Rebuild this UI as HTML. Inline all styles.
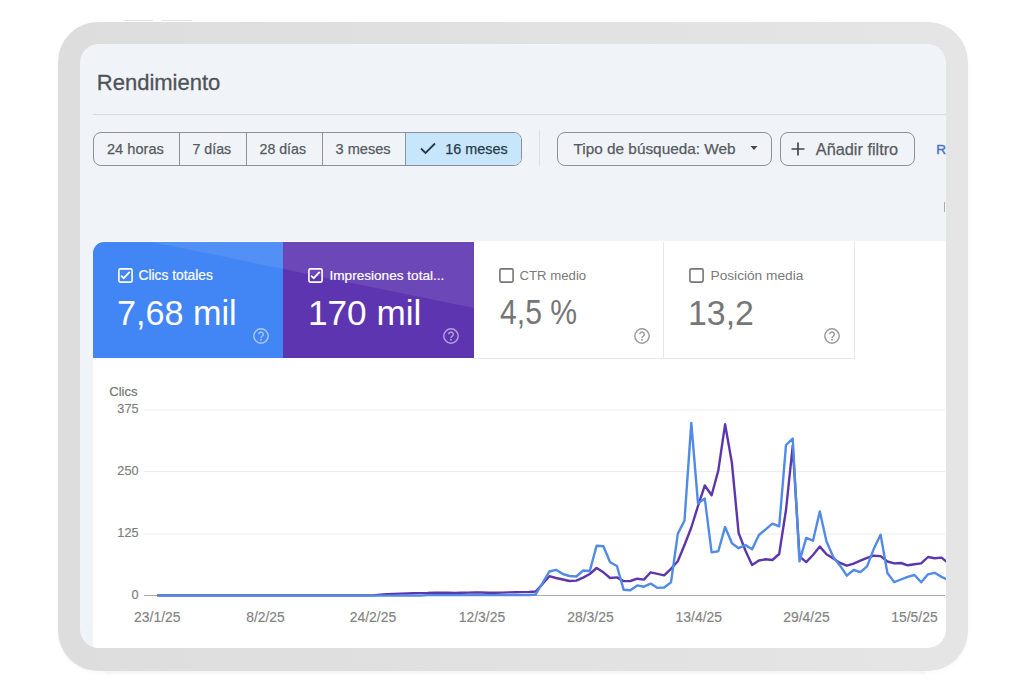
<!DOCTYPE html>
<html><head><meta charset="utf-8"><style>
*{margin:0;padding:0;box-sizing:border-box}
html,body{width:1024px;height:700px;overflow:hidden;background:#fff;font-family:"Liberation Sans", sans-serif}
.abs{position:absolute}
.t{position:absolute;white-space:nowrap;line-height:1}
.ic{position:absolute}
#frame{position:absolute;left:58px;top:22.4px;width:909.5px;height:648.8px;background:linear-gradient(to right,#dddddd,#e5e5e5);border-radius:40px;box-shadow:0 2px 4px rgba(0,0,0,0.03)}
#screen{position:absolute;left:80px;top:43.5px;width:865.8px;height:604.4px;background:#f0f4f9;border-radius:19px;overflow:hidden}
.xl{position:absolute;top:610.6px;width:80px;text-align:center;font-size:13.9px;line-height:1;color:#828282;white-space:nowrap;-webkit-text-stroke:0.15px #828282}
.yl{position:absolute;left:100px;width:38.5px;text-align:right;font-size:12.7px;line-height:1;color:#7c7c7c;-webkit-text-stroke:0.15px #7c7c7c}
</style></head><body>
<div class="abs" style="left:123px;top:19.5px;width:30px;height:1.2px;background:#e2e2e2"></div>
<div class="abs" style="left:162px;top:19.5px;width:30px;height:1.2px;background:#e2e2e2"></div>
<div id="frame"></div>
<div class="abs" style="left:105px;top:671px;width:820px;height:3px;background:#f5f5f5"></div>
<div id="screen">
 <div style="position:absolute;left:-80px;top:-43.5px;width:1024px;height:700px">
  <div class="t" style="left:96.8px;top:71.7px;font-size:22px;color:#4f5357;-webkit-text-stroke:0.3px #4f5357">Rendimiento</div>
  <div class="abs" style="left:93px;top:114px;width:860px;height:1px;background:#d6d9de"></div>
  <!-- segmented buttons -->
  <div class="abs" style="left:93px;top:132.3px;width:429px;height:33.5px;border:1px solid #8d9094;border-radius:8px;overflow:hidden">
    <div class="abs" style="left:311px;top:0;width:118px;height:34px;background:#c8e6fb"></div>
    <div class="abs" style="left:84.5px;top:0;width:1px;height:34px;background:#8d9094"></div>
    <div class="abs" style="left:152px;top:0;width:1px;height:34px;background:#8d9094"></div>
    <div class="abs" style="left:227.5px;top:0;width:1px;height:34px;background:#8d9094"></div>
    <div class="abs" style="left:310.8px;top:0;width:1px;height:34px;background:#8d9094"></div>
  </div>
  <div class="t" style="left:107.0px;top:142.0px;font-size:14.6px;color:#575b5f;-webkit-text-stroke:0.25px currentColor">24 horas</div>
  <div class="t" style="left:192.5px;top:142.4px;font-size:14.2px;color:#575b5f;-webkit-text-stroke:0.25px currentColor">7 días</div>
  <div class="t" style="left:259.5px;top:142.4px;font-size:14.2px;color:#575b5f;-webkit-text-stroke:0.25px currentColor">28 días</div>
  <div class="t" style="left:335.5px;top:142.0px;font-size:14.6px;color:#575b5f;-webkit-text-stroke:0.25px currentColor">3 meses</div>
  <div class="t" style="left:445.3px;top:142.2px;font-size:14.4px;color:#263a4a;-webkit-text-stroke:0.25px currentColor">16 meses</div>
  <svg class="ic" style="left:419px;top:141px" width="18" height="14" viewBox="0 0 18 14"><path d="M2 7.5l4.5 4.5L16 2.5" fill="none" stroke="#263a4a" stroke-width="1.8"/></svg>
  <div class="abs" style="left:539px;top:130px;width:1px;height:36px;background:#dcdfe3"></div>
  <div class="abs" style="left:556.5px;top:132.3px;width:215px;height:33.5px;border:1px solid #8d9094;border-radius:8px"></div>
  <div class="t" style="left:573.5px;top:141.4px;font-size:15.35px;color:#575b5f;-webkit-text-stroke:0.25px currentColor">Tipo de búsqueda: Web</div>
  <svg class="ic" style="left:749px;top:145px" width="10" height="6" viewBox="0 0 10 6"><path d="M1.5 1h7L5 5z" fill="#444746"/></svg>
  <div class="abs" style="left:780.2px;top:132.3px;width:135px;height:33.5px;border:1px solid #8d9094;border-radius:8px"></div>
  <svg class="ic" style="left:790px;top:141px" width="16" height="16" viewBox="0 0 16 16"><path d="M8 1.5v13M1.5 8h13" stroke="#444746" stroke-width="1.7"/></svg>
  <div class="t" style="left:815.8px;top:140.6px;font-size:16.3px;color:#575b5f;-webkit-text-stroke:0.25px currentColor">Añadir filtro</div>
  <div class="t" style="left:936.2px;top:143.3px;font-size:13.6px;color:#4a72c0;-webkit-text-stroke:0.4px #4a72c0">R</div>
  <div class="abs" style="left:943.5px;top:202px;width:1.6px;height:10px;background:#ababab"></div>
  <!-- white content -->
  <div class="abs" style="left:92.5px;top:240.5px;width:861px;height:420px;background:#fff;border-top-left-radius:12px"></div>
  <!-- cards -->
  <div class="abs" style="left:93px;top:241.5px;width:190px;height:116.5px;background:#4285f4;border-top-left-radius:11px;overflow:hidden"></div>
  <div class="abs" style="left:283px;top:241.5px;width:190.5px;height:116.5px;background:#5e35b1"></div>
  <svg class="abs" style="left:93px;top:241.5px" width="381" height="117" viewBox="93 241.5 381 117">
    <polygon points="152,241.5 474,241.5 474,307.5 " fill="#ffffff" fill-opacity="0.09"/>
  </svg>
  <div class="abs" style="left:473.5px;top:241.5px;width:190px;height:117px;border-right:1px solid #e8e8e8;border-bottom:1px solid #e8e8e8"></div>
  <div class="abs" style="left:663.3px;top:241.5px;width:192px;height:117px;border-right:1px solid #e8e8e8;border-bottom:1px solid #e8e8e8"></div>
  <svg class="ic" style="left:118px;top:267.9px" width="15" height="15" viewBox="0 0 15 15"><rect x="0.9" y="0.9" width="13.2" height="13.2" rx="1.5" fill="none" stroke="#ffffff" stroke-width="1.6"/><path d="M3.1 7.6L5.7 10.1 11.7 3.8" fill="none" stroke="#ffffff" stroke-width="1.8"/></svg>
  <svg class="ic" style="left:308px;top:267.9px" width="15" height="15" viewBox="0 0 15 15"><rect x="0.9" y="0.9" width="13.2" height="13.2" rx="1.5" fill="none" stroke="#ffffff" stroke-width="1.6"/><path d="M3.1 7.6L5.7 10.1 11.7 3.8" fill="none" stroke="#ffffff" stroke-width="1.8"/></svg>
  <svg class="ic" style="left:498.8px;top:268.2px" width="15" height="15" viewBox="0 0 15 15"><rect x="0.9" y="0.9" width="13.2" height="13.2" rx="1.5" fill="none" stroke="#757575" stroke-width="1.6"/></svg>
  <svg class="ic" style="left:688.9px;top:268.2px" width="15" height="15" viewBox="0 0 15 15"><rect x="0.9" y="0.9" width="13.2" height="13.2" rx="1.5" fill="none" stroke="#757575" stroke-width="1.6"/></svg>
  <div class="t" style="left:138.5px;top:268.5px;font-size:13.8px;color:#ffffff;-webkit-text-stroke:0.2px #fff">Clics totales</div>
  <div class="t" style="left:329.5px;top:268.7px;font-size:13.6px;color:#ffffff;-webkit-text-stroke:0.2px #fff">Impresiones total...</div>
  <div class="t" style="left:519.5px;top:269.0px;font-size:13.2px;color:#7a7a7a;">CTR medio</div>
  <div class="t" style="left:710.5px;top:268.6px;font-size:13.7px;color:#7a7a7a;">Posición media</div>
  <div class="t" style="left:117.1px;top:296.1px;font-size:35.8px;color:#ffffff;transform:scaleX(0.9550);transform-origin:0 0;">7,68 mil</div>
  <div class="t" style="left:307.5px;top:296.1px;font-size:35.8px;color:#ffffff;transform:scaleX(0.9822);transform-origin:0 0;">170 mil</div>
  <div class="t" style="left:499.7px;top:295.3px;font-size:35.5px;color:#767676;transform:scaleX(0.8496);transform-origin:0 0;">4,5 %</div>
  <div class="t" style="left:688.0px;top:295.9px;font-size:35.5px;color:#767676;transform:scaleX(0.9534);transform-origin:0 0;">13,2</div>
  <svg class="ic" style="left:251.8px;top:327.2px" width="18" height="18" viewBox="0 0 18 18"><circle cx="9" cy="9" r="7.2" fill="none" stroke="#a9c8fa" stroke-width="1.45"/><path d="M6.75 7.3a2.25 2.25 0 1 1 3.4 1.95c-.75.45-1.15.85-1.15 1.75" fill="none" stroke="#a9c8fa" stroke-width="1.45"/><circle cx="9" cy="12.75" r=".9" fill="#a9c8fa"/></svg>
  <svg class="ic" style="left:442.4px;top:327px" width="18" height="18" viewBox="0 0 18 18"><circle cx="9" cy="9" r="7.2" fill="none" stroke="#b3a0dc" stroke-width="1.45"/><path d="M6.75 7.3a2.25 2.25 0 1 1 3.4 1.95c-.75.45-1.15.85-1.15 1.75" fill="none" stroke="#b3a0dc" stroke-width="1.45"/><circle cx="9" cy="12.75" r=".9" fill="#b3a0dc"/></svg>
  <svg class="ic" style="left:632.8px;top:326.9px" width="18" height="18" viewBox="0 0 18 18"><circle cx="9" cy="9" r="7.2" fill="none" stroke="#9a9a9a" stroke-width="1.45"/><path d="M6.75 7.3a2.25 2.25 0 1 1 3.4 1.95c-.75.45-1.15.85-1.15 1.75" fill="none" stroke="#9a9a9a" stroke-width="1.45"/><circle cx="9" cy="12.75" r=".9" fill="#9a9a9a"/></svg>
  <svg class="ic" style="left:823.3px;top:326.9px" width="18" height="18" viewBox="0 0 18 18"><circle cx="9" cy="9" r="7.2" fill="none" stroke="#9a9a9a" stroke-width="1.45"/><path d="M6.75 7.3a2.25 2.25 0 1 1 3.4 1.95c-.75.45-1.15.85-1.15 1.75" fill="none" stroke="#9a9a9a" stroke-width="1.45"/><circle cx="9" cy="12.75" r=".9" fill="#9a9a9a"/></svg>
  <!-- chart -->
  <div class="t" style="left:109.2px;top:385.2px;font-size:13.1px;color:#757575;-webkit-text-stroke:0.2px #757575">Clics</div>
  <div class="yl" style="top:403.4px">375</div><div class="yl" style="top:465.0px">250</div><div class="yl" style="top:527.4px">125</div><div class="yl" style="top:588.9px">0</div>
  <svg class="abs" style="left:0;top:0" width="1024" height="700">
    <line x1="144" y1="410" x2="945" y2="410" stroke="#ebebeb" stroke-width="1"/><line x1="144" y1="471.6" x2="945" y2="471.6" stroke="#ebebeb" stroke-width="1"/><line x1="144" y1="534" x2="945" y2="534" stroke="#ebebeb" stroke-width="1"/>
    <line x1="144" y1="595.5" x2="945" y2="595.5" stroke="#a8a8a8" stroke-width="1"/>
    <polyline points="157.0,595.4 163.8,595.4 170.5,595.4 177.3,595.4 184.1,595.4 190.8,595.4 197.6,595.4 204.3,595.4 211.1,595.4 217.9,595.4 224.6,595.4 231.4,595.4 238.2,595.4 244.9,595.4 251.7,595.4 258.4,595.4 265.2,595.4 272.0,595.4 278.7,595.4 285.5,595.4 292.3,595.4 299.0,595.4 305.8,595.4 312.5,595.4 319.3,595.4 326.1,595.4 332.8,595.4 339.6,595.4 346.4,595.4 353.1,595.4 359.9,595.4 366.7,595.4 373.4,595.4 380.2,594.6 386.9,594.3 393.7,593.9 400.5,593.6 407.2,593.5 414.0,593.3 420.8,593.1 427.5,593.0 434.3,592.7 441.0,592.8 447.8,592.8 454.6,592.9 461.3,592.7 468.1,592.6 474.9,592.4 481.6,592.5 488.4,592.7 495.1,592.8 501.9,592.6 508.7,592.4 515.4,592.2 522.2,592.1 529.0,592.0 535.7,591.5 542.5,584.0 549.3,576.2 556.0,578.0 562.8,579.5 569.5,581.0 576.3,580.6 583.1,577.6 589.8,574.0 596.6,568.0 603.4,572.3 610.1,578.0 616.9,577.4 623.6,581.1 630.4,581.0 637.2,578.7 643.9,579.6 650.7,572.3 657.5,573.8 664.2,575.4 671.0,568.8 677.8,561.2 684.5,545.0 691.3,527.5 698.0,506.0 704.8,485.5 711.6,495.3 718.3,470.6 725.1,424.3 731.9,462.9 738.6,532.9 745.4,550.5 752.1,565.0 758.9,560.5 765.7,559.3 772.4,560.0 779.2,554.0 786.0,510.0 792.7,446.0 799.5,556.4 806.2,562.1 813.0,555.0 819.8,546.6 826.5,554.3 833.3,558.6 840.1,562.9 846.8,565.7 853.6,563.6 860.4,560.7 867.1,557.9 873.9,555.7 880.6,556.1 887.4,561.5 894.2,563.4 900.9,563.0 907.7,565.3 914.5,564.3 921.2,563.4 928.0,557.0 934.7,558.3 941.5,557.6 948.3,563.0" fill="none" stroke="#5c37ab" stroke-width="2.4" stroke-linejoin="round"/>
    <polyline points="157.0,595.6 163.8,595.6 170.5,595.6 177.3,595.6 184.1,595.6 190.8,595.6 197.6,595.6 204.3,595.6 211.1,595.6 217.9,595.6 224.6,595.6 231.4,595.6 238.2,595.6 244.9,595.6 251.7,595.6 258.4,595.6 265.2,595.6 272.0,595.6 278.7,595.6 285.5,595.6 292.3,595.6 299.0,595.6 305.8,595.6 312.5,595.6 319.3,595.6 326.1,595.6 332.8,595.6 339.6,595.6 346.4,595.6 353.1,595.6 359.9,595.6 366.7,595.6 373.4,595.6 380.2,595.6 386.9,595.6 393.7,595.6 400.5,595.6 407.2,595.6 414.0,595.6 420.8,595.6 427.5,595.1 434.3,595.1 441.0,595.1 447.8,595.1 454.6,595.1 461.3,595.1 468.1,595.1 474.9,595.1 481.6,595.1 488.4,595.1 495.1,595.1 501.9,595.1 508.7,595.1 515.4,595.1 522.2,595.1 529.0,595.1 535.7,594.5 542.5,583.0 549.3,571.5 556.0,569.8 562.8,574.0 569.5,576.0 576.3,576.5 583.1,570.5 589.8,571.0 596.6,545.8 603.4,546.2 610.1,562.2 616.9,566.0 623.6,589.7 630.4,590.2 637.2,585.4 643.9,586.7 650.7,583.6 657.5,587.9 664.2,587.5 671.0,582.4 677.8,533.8 684.5,520.5 691.3,422.9 698.0,503.3 704.8,498.6 711.6,552.4 718.3,551.2 725.1,526.9 731.9,543.2 738.6,548.2 745.4,545.0 752.1,549.3 758.9,535.0 765.7,529.3 772.4,523.6 779.2,526.4 786.0,445.0 792.7,438.6 799.5,561.4 806.2,537.9 813.0,540.7 819.8,511.4 826.5,541.4 833.3,557.1 840.1,565.7 846.8,575.7 853.6,570.0 860.4,572.1 867.1,566.4 873.9,548.6 880.6,534.8 887.4,573.0 894.2,582.1 900.9,579.5 907.7,576.9 914.5,575.0 921.2,582.3 928.0,574.3 934.7,572.8 941.5,576.9 948.3,580.0" fill="none" stroke="#518be6" stroke-width="2.4" stroke-linejoin="round"/>
  </svg>
  <div class="xl" style="left:117.3px">23/1/25</div><div class="xl" style="left:225.5px">8/2/25</div><div class="xl" style="left:333.0px">24/2/25</div><div class="xl" style="left:442.0px">12/3/25</div><div class="xl" style="left:550.5px">28/3/25</div><div class="xl" style="left:658.8px">13/4/25</div><div class="xl" style="left:766.5px">29/4/25</div><div class="xl" style="left:874.5px">15/5/25</div>
 </div>
</div>
</body></html>
